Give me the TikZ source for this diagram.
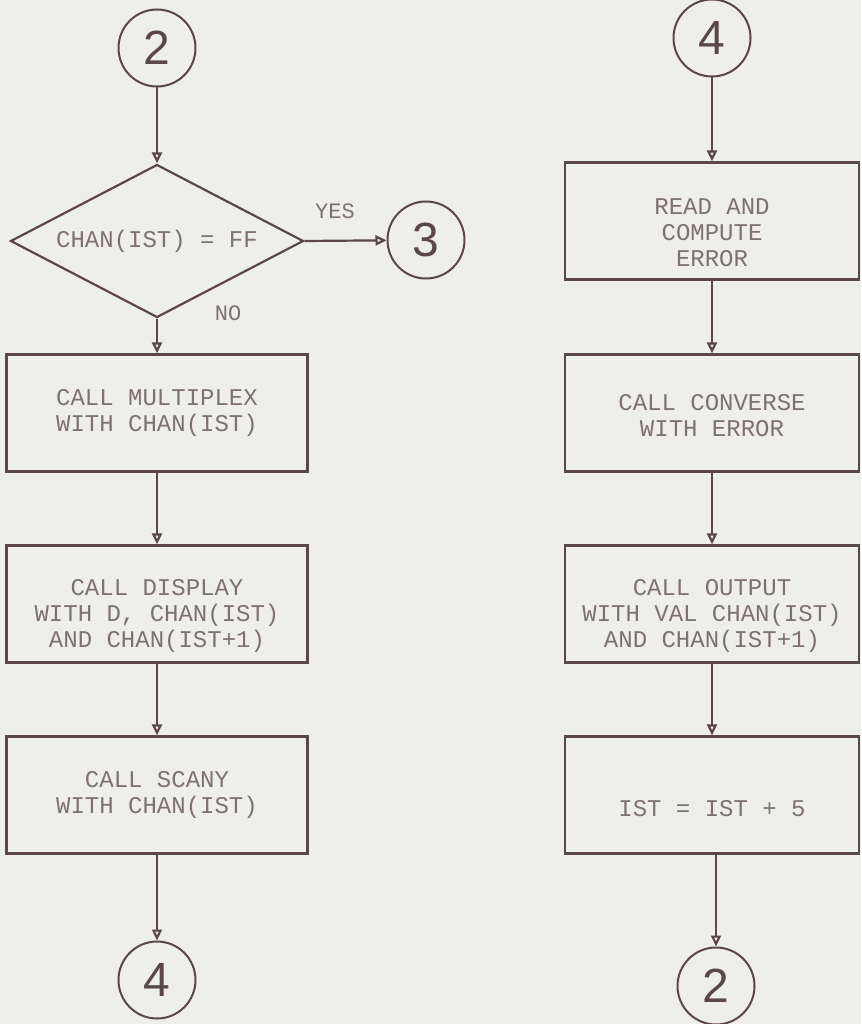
\documentclass[tikz,border=0pt]{standalone}
\usepackage{fontspec}
\setmainfont{Liberation Sans}
\setmonofont{Liberation Mono}
\usetikzlibrary{shapes.geometric,arrows.meta}
\definecolor{ink}{HTML}{5A4848}
\definecolor{txt}{HTML}{7E7270}
\definecolor{paper}{HTML}{EFEFEA}
\begin{document}
\begin{tikzpicture}[x=1pt,y=-1pt,
  every node/.style={inner sep=0pt},
  boxfont/.style={text=txt, font=\fontsize{24}{26}\ttfamily, align=center},
  proc/.style={draw=ink, line width=2.2pt, minimum width=301pt, minimum height=117pt},
  conn/.style={circle, draw=ink, line width=2pt, minimum size=77pt, text=ink, font=\fontsize{48}{48}\selectfont},
  flow/.style={draw=ink, line width=2.2pt, -{Triangle[open,length=11pt,width=10pt]}},
  lbl/.style={text=txt, font=\fontsize{22}{22}\ttfamily}]
\fill[paper] (0,0) rectangle (861,1024);
\useasboundingbox (0,0) rectangle (861,1024);
% left column
\node[conn] (c2a) at (157,48) {2};
\node[diamond, draw=ink, line width=2.2pt, minimum width=293pt, minimum height=153pt, aspect=2, boxfont] (d) at (157,241) {CHAN(IST) = FF};
\node[conn] (c3) at (426,240) {3};
\node[proc, boxfont] (b1) at (157,413) {CALL MULTIPLEX\\WITH CHAN(IST)};
\node[proc, label={[boxfont, yshift=-12pt]center:{CALL DISPLAY\\WITH D, CHAN(IST)\\AND CHAN(IST+1)}}] (b2) at (157,604) {};
\node[proc, boxfont] (b3) at (157,795) {CALL SCANY\\WITH CHAN(IST)};
\node[conn] (c4a) at (157,980) {4};
\node[lbl] (yes) at (335,211) {YES};
\node[lbl] (no) at (228,313) {NO};
% right column
\node[conn] (c4b) at (712,38) {4};
\node[proc, minimum width=294pt, label={[boxfont, yshift=-12pt]center:{READ AND\\COMPUTE\\ERROR}}] (r1) at (712,221) {};
\node[proc, minimum width=294pt, label={[boxfont, yshift=-3pt]center:{CALL CONVERSE\\WITH ERROR}}] (r2) at (712,413) {};
\node[proc, minimum width=294pt, label={[boxfont, yshift=-12pt]center:{CALL OUTPUT\\WITH VAL CHAN(IST)\\AND CHAN(IST+1)}}] (r3) at (712,604) {};
\node[proc, minimum width=294pt, label={[boxfont, yshift=-14pt]center:{IST = IST + 5}}] (r4) at (712,795) {};
\node[conn] (c2b) at (716,986) {2};
% connectors
\draw[flow] (c2a) -- (d.north);
\draw[flow] (d.east) -- (c3);
\draw[flow] (d.south) -- (b1.north);
\draw[flow] (b1) -- (b2);
\draw[flow] (b2) -- (b3);
\draw[flow] (b3) -- (c4a);
\draw[flow] (c4b) -- (r1);
\draw[flow] (r1) -- (r2);
\draw[flow] (r2) -- (r3);
\draw[flow] (r3) -- (r4);
\draw[flow] (r4.south -| c2b) -- (c2b);
\end{tikzpicture}
\end{document}
